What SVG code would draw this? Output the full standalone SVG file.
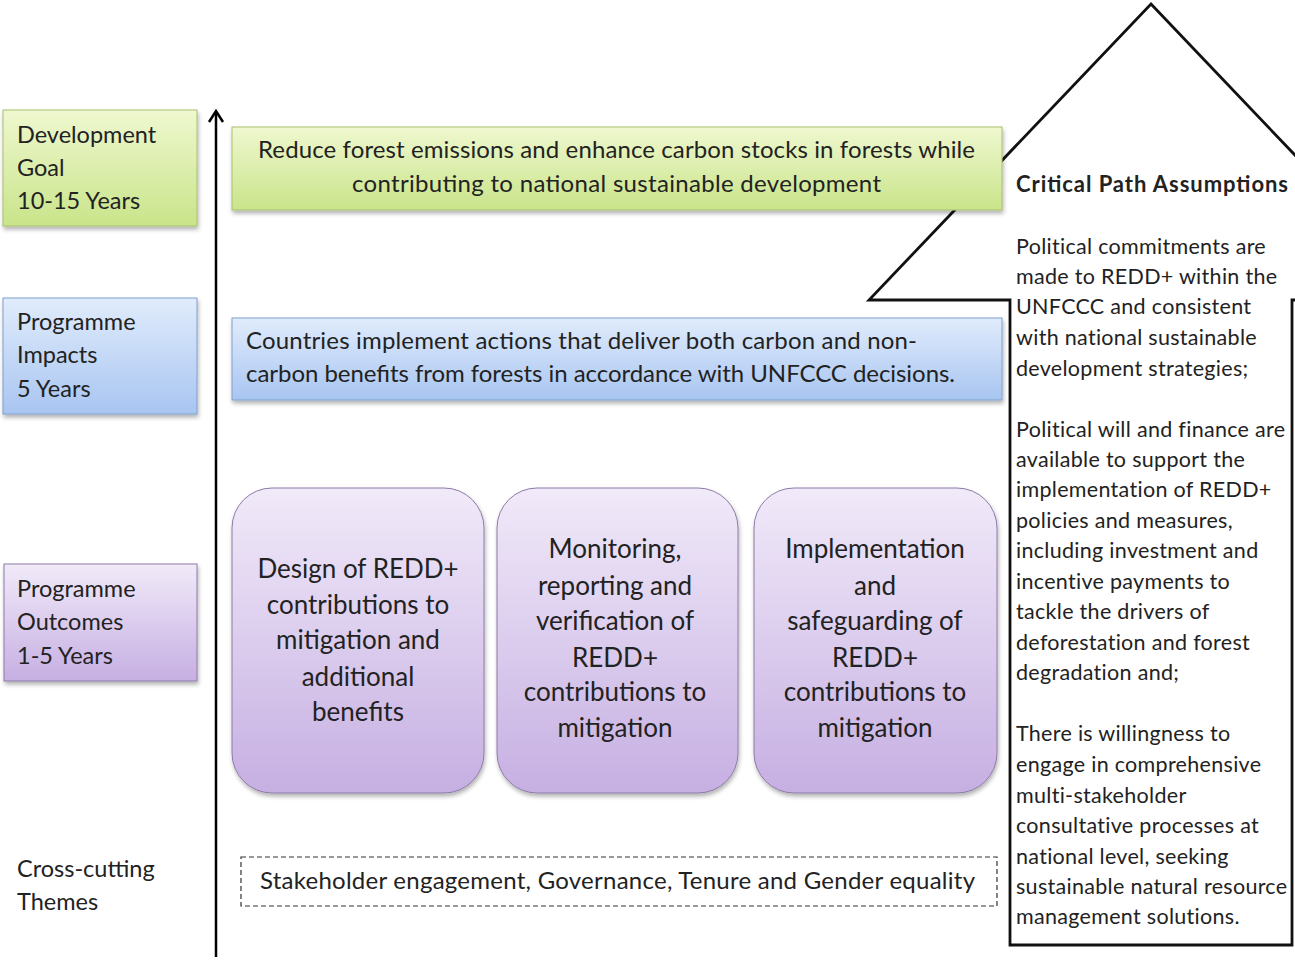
<svg xmlns="http://www.w3.org/2000/svg" width="1295" height="961" viewBox="0 0 1295 961">
<defs>
<linearGradient id="gGreen" x1="0" y1="0" x2="0" y2="1"><stop offset="0" stop-color="#eff8cf"/><stop offset="1" stop-color="#c9e48a"/></linearGradient>
<linearGradient id="gBlue" x1="0" y1="0" x2="0" y2="1"><stop offset="0" stop-color="#e1ecfc"/><stop offset="1" stop-color="#a8c5f1"/></linearGradient>
<linearGradient id="gPurple" x1="0" y1="0" x2="0" y2="1"><stop offset="0" stop-color="#f1eaf9"/><stop offset="1" stop-color="#c6afe2"/></linearGradient>
<filter id="sh" x="-5%" y="-5%" width="110%" height="115%"><feDropShadow dx="1" dy="3" stdDeviation="2" flood-color="#000" flood-opacity="0.3"/></filter>
</defs>
<style>
text{font-family:Lato,"Open Sans","Liberation Sans",sans-serif;fill:#222;}
.lbl{font-size:23.5px;}
.big{font-size:24px;}
.pur{font-size:26px;text-anchor:middle;}
.cp{font-size:21.5px;letter-spacing:0.3px;}
.green{fill:url(#gGreen);stroke:#a9bf6e;stroke-width:1;}
.blue{fill:url(#gBlue);stroke:#7f9fce;stroke-width:1;}
.purple{fill:url(#gPurple);stroke:#8e7aa8;stroke-width:1;}
</style>
<rect width="1295" height="961" fill="#fff"/>

<g id="assumptions">
<path d="M1151,4 L1433,300 L1292,300 L1292,945 L1010,945 L1010,300 L869,300 Z" fill="#fff" stroke="#111" stroke-width="2.8" stroke-linejoin="miter"/>
<text x="1016" y="192" textLength="272" style="font-size:22px;font-weight:bold">Critical Path Assumptions</text>
<text class="cp">
<tspan x="1016" y="254">Political commitments  are</tspan>
<tspan x="1016" y="284">made to  REDD+ within the</tspan>
<tspan x="1016" y="314">UNFCCC and consistent</tspan>
<tspan x="1016" y="345">with national sustainable</tspan>
<tspan x="1016" y="376">development  strategies;</tspan>
<tspan x="1016" y="437">Political will and finance are</tspan>
<tspan x="1016" y="467">available to support the</tspan>
<tspan x="1016" y="497">implementation  of REDD+</tspan>
<tspan x="1016" y="528">policies and measures,</tspan>
<tspan x="1016" y="558">including investment  and</tspan>
<tspan x="1016" y="589">incentive payments to</tspan>
<tspan x="1016" y="619">tackle the  drivers of</tspan>
<tspan x="1016" y="650">deforestation and forest</tspan>
<tspan x="1016" y="680">degradation and;</tspan>
<tspan x="1016" y="741">There is willingness to</tspan>
<tspan x="1016" y="772">engage  in comprehensive</tspan>
<tspan x="1016" y="803">multi-stakeholder</tspan>
<tspan x="1016" y="833">consultative processes at</tspan>
<tspan x="1016" y="864">national level, seeking</tspan>
<tspan x="1016" y="894">sustainable natural resource</tspan>
<tspan x="1016" y="924">management  solutions.</tspan>
</text>
</g>

<g id="connectors">
<line x1="216" y1="957" x2="216" y2="112" stroke="#000" stroke-width="2.5"/>
<path d="M209,122 L216,111 L223,122" fill="none" stroke="#000" stroke-width="2.5"/>
</g>

<g id="label-goal">
<rect x="3" y="110" width="194" height="116" class="green" filter="url(#sh)"/>
<text class="lbl"><tspan x="17" y="143">Development</tspan><tspan x="17" y="176">Goal</tspan><tspan x="17" y="209">10-15 Years</tspan></text>
</g>
<g id="label-impacts">
<rect x="3" y="298" width="194" height="116" class="blue" filter="url(#sh)"/>
<text class="lbl"><tspan x="17" y="330">Programme</tspan><tspan x="17" y="363">Impacts</tspan><tspan x="17" y="397">5 Years</tspan></text>
</g>
<g id="label-outcomes">
<rect x="4" y="564" width="193" height="117" class="purple" filter="url(#sh)"/>
<text class="lbl"><tspan x="17" y="597">Programme</tspan><tspan x="17" y="630">Outcomes</tspan><tspan x="17" y="664">1-5 Years</tspan></text>
</g>
<g id="label-themes">
<text class="lbl"><tspan x="17" y="877">Cross-cutting</tspan><tspan x="17" y="910">Themes</tspan></text>
</g>

<g id="goal">
<rect x="232" y="127" width="770" height="83" class="green" filter="url(#sh)"/>
<text class="big"><tspan x="258" y="158" textLength="717">Reduce  forest emissions and enhance  carbon stocks in forests while</tspan><tspan x="352" y="192" textLength="529">contributing to national  sustainable development</tspan></text>
</g>
<g id="impacts">
<rect x="232" y="318" width="770" height="82" class="blue" filter="url(#sh)"/>
<text class="big"><tspan x="246" y="349" textLength="671">Countries implement actions that deliver both carbon and non-</tspan><tspan x="246" y="382" textLength="709">carbon benefits  from forests in accordance  with UNFCCC decisions.</tspan></text>
</g>

<g id="outcome-design">
<rect x="232" y="488" width="252" height="305" rx="40" class="purple" filter="url(#sh)"/>
<text class="pur"><tspan x="358" y="578">Design of REDD+</tspan><tspan x="358" y="614">contributions to</tspan><tspan x="358" y="649">mitigation  and</tspan><tspan x="358" y="686">additional</tspan><tspan x="358" y="721">benefits</tspan></text>
</g>
<g id="outcome-mrv">
<rect x="497" y="488" width="241" height="305" rx="40" class="purple" filter="url(#sh)"/>
<text class="pur"><tspan x="615" y="558">Monitoring,</tspan><tspan x="615" y="595">reporting and</tspan><tspan x="615" y="630">verification of</tspan><tspan x="615" y="667">REDD+</tspan><tspan x="615" y="701">contributions to</tspan><tspan x="615" y="737">mitigation</tspan></text>
</g>
<g id="outcome-implementation">
<rect x="754" y="488" width="243" height="305" rx="40" class="purple" filter="url(#sh)"/>
<text class="pur"><tspan x="875" y="558">Implementation</tspan><tspan x="875" y="595">and</tspan><tspan x="875" y="630">safeguarding of</tspan><tspan x="875" y="667">REDD+</tspan><tspan x="875" y="701">contributions to</tspan><tspan x="875" y="737">mitigation</tspan></text>
</g>

<g id="themes">
<rect x="241" y="857" width="756" height="49" fill="#fff" stroke="#333" stroke-width="1.2" stroke-dasharray="5,3"/>
<text class="big" x="260" y="889" textLength="715">Stakeholder engagement, Governance, Tenure and Gender equality</text>
</g>
</svg>
